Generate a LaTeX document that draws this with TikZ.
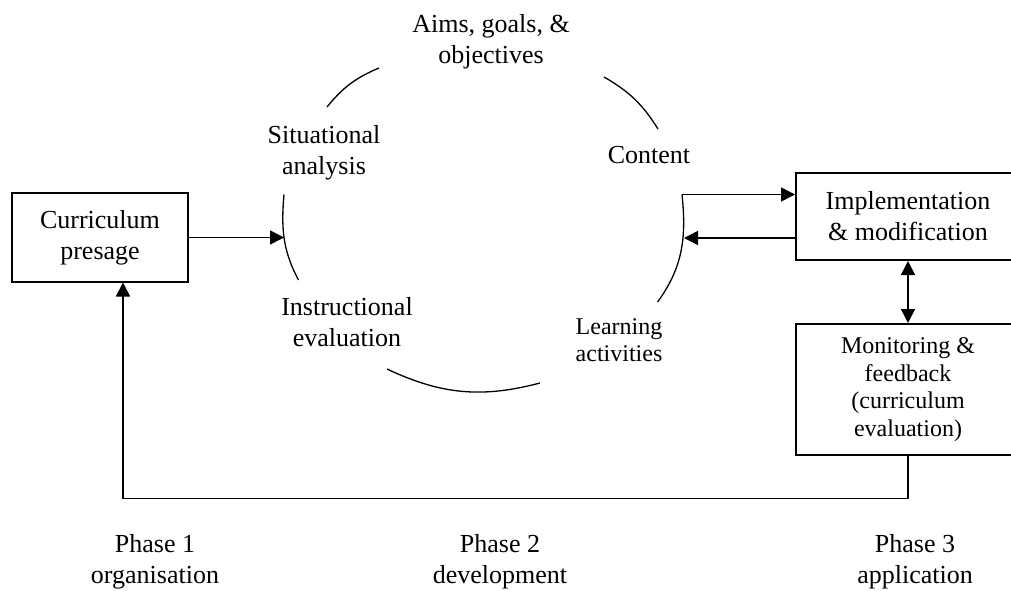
\documentclass[tikz,border=0pt]{standalone}
\usepackage{fontspec}
\setmainfont{Liberation Serif}
\usepackage{tikz}
\usetikzlibrary{arrows.meta, positioning}
\newcommand{\cyclefont}{\fontsize{13pt}{15.5pt}\selectfont}
\newcommand{\notefont}{\fontsize{12pt}{13.8pt}\selectfont}
\tikzset{
  stagebox/.style={draw, line width=1pt, align=center, inner sep=0pt, font=\cyclefont},
  steplabel/.style={align=center, inner sep=0pt, font=\cyclefont},
  link/.style={line width=0.8pt, -{Triangle[length=7pt, width=7pt]}},
  cyclearc/.style={line width=0.65pt}
}

\begin{document}
\begin{tikzpicture}[x=0.5pt, y=0.5pt]
  \clip (0,0) rectangle (1011,590);

  % boxes
  \node[stagebox, minimum width=88pt, minimum height=44pt] (presage) at (100,352.5) {Curriculum\\presage};
  \node[stagebox, minimum width=112pt, minimum height=43.5pt] (implement) at (908,373.5) {Implementation\\\& modification};
  \node[stagebox, minimum width=112pt, minimum height=65.5pt, font=\notefont] (monitor) at (908,200.5) {Monitoring \&\\feedback\\(curriculum\\evaluation)};

  % labels round the cycle
  \node[steplabel] (aims) at (491,548.5) {Aims, goals, \&\\objectives};
  \node[steplabel] (situation) at (324,437) {Situational\\analysis};
  \node[steplabel] (content) at (649,435) {Content};
  \node[steplabel] (instruct) at (347,268) {Instructional\\evaluation};
  \node[steplabel, align=left, font=\notefont] (learning) at (619,250) {Learning\\activities};

  % the broken circle
  \coordinate (ltop) at (284,395.5);
  \coordinate (lbot) at (298.5,310);
  \coordinate (rtop) at (682,395.5);
  \coordinate (rbot) at (657.6,288);
  \draw[cyclearc] (327,483) to[bend left=14] (379,522);
  \draw[cyclearc] (604,513) to[bend left=14] (658,461);
  \draw[cyclearc] (ltop) to[out=-95, in=118] (lbot);
  \draw[cyclearc] (rtop) to[out=-84, in=54] (rbot);
  \draw[cyclearc] (387,221) to[bend right=20] (540,207);

  % connectors
  \coordinate (lhit) at (284,352.5);
  \coordinate (rhit) at (684,352);
  \coordinate (fbk) at (123,91.5);
  \draw[link] (presage.east) -- (presage.east -| lhit);
  \draw[link] (rtop) -- (rtop -| implement.west);
  \draw[link] (rhit -| implement.west) -- (rhit);
  \draw[link, {Triangle[length=7pt, width=7pt]}-{Triangle[length=7pt, width=7pt]}] (implement.south) -- (monitor.north);
  \draw[link] (monitor.south) |- (fbk) -- (fbk |- presage.south);

  % phases
  \node[steplabel] (phase1) at (155,28.5) {Phase 1\\organisation};
  \node[steplabel] (phase2) at (500,28.5) {Phase 2\\development};
  \node[steplabel] (phase3) at (915,28.5) {Phase 3\\application};
\end{tikzpicture}
\end{document}
